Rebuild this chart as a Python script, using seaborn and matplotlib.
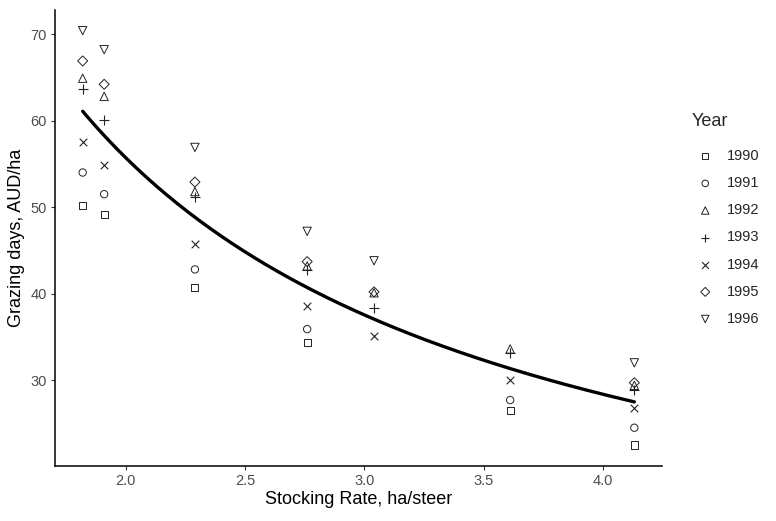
"""Grazing days vs stocking rate, by year, with a power-law fit"""

import numpy as np
import pandas as pd
import matplotlib
matplotlib.use('Agg')
import matplotlib.pyplot as plt
import seaborn as sns

# Stocking rates (ha/steer) used in the trial
stocking_rate = [1.82, 1.91, 2.29, 2.76, 3.04, 3.61, 4.13]

# Grazing days (AUD/ha) per year, NaN where no observation
years = ['1990', '1991', '1992', '1993', '1994', '1995', '1996']
gd_1990 = [50.2, 49.1, 40.7, 34.3, np.nan, 26.5, 22.5]
gd_1991 = [54.0, 51.5, 42.8, 35.9, np.nan, 27.7, 24.5]
gd_1992 = [64.9, 62.8, 51.8, 43.2, 40.1, 33.6, 29.4]
gd_1993 = [63.7, 60.1, 51.2, 42.7, 38.3, 33.1, 28.9]
gd_1994 = [57.5, 54.9, 45.7, 38.6, 35.1, 30.0, 26.8]
gd_1995 = [66.9, 64.2, 52.9, 43.7, 40.2, np.nan, 29.7]
gd_1996 = [70.4, 68.2, 56.9, 47.2, 43.8, np.nan, 32.0]

# ggplot shapes 0..6
year_markers = ['s', 'o', '^', '+', 'x', 'D', 'v']
year_sizes = [26, 28, 36, 46, 30, 26, 36]

series = [gd_1990, gd_1991, gd_1992, gd_1993, gd_1994, gd_1995, gd_1996]
df = pd.concat(
    [pd.DataFrame({'rate': stocking_rate, 'gd': vals, 'Year': yr})
     for yr, vals in zip(years, series)],
    ignore_index=True
).dropna()

# Power-law fit (log-log regression) over the observed range
b, log_a = np.polyfit(np.log(df['rate']), np.log(df['gd']), 1)
fit = pd.DataFrame({'rate': np.linspace(min(stocking_rate), max(stocking_rate), 200)})
fit['gd'] = np.exp(log_a) * fit['rate'] ** b

sns.set_style('white')
plt.rcParams['font.family'] = ['Liberation Sans', 'DejaVu Sans']

fig, ax = plt.subplots(figsize=(7.76, 5.21), dpi=100)
fig.subplots_adjust(left=0.071, right=0.853, bottom=0.106, top=0.981)

handles = []
for yr, mk, sz in zip(years, year_markers, year_sizes):
    sub = df[df['Year'] == yr]
    if mk in ('+', 'x'):
        kw = dict(color='#222222', linewidth=0.8)
    else:
        kw = dict(facecolor='none', edgecolor='#222222', linewidth=0.7)
    sns.scatterplot(data=sub, x='rate', y='gd', marker=mk, s=sz, ax=ax,
                    legend=False, zorder=3, **kw)
    handles.append(plt.scatter([], [], marker=mk, s=sz * 0.8, **kw))

sns.lineplot(data=fit, x='rate', y='gd', color='black', linewidth=2.4,
             ax=ax, zorder=2)

ax.set_xlim(1.7045, 4.2455)
ax.set_ylim(20.1, 72.8)
ax.set_xticks([2.0, 2.5, 3.0, 3.5, 4.0])
ax.set_xticklabels(['2.0', '2.5', '3.0', '3.5', '4.0'])
ax.set_yticks([30, 40, 50, 60, 70])
ax.set_xlabel('Stocking Rate, ha/steer', fontsize=13, color='black', labelpad=2)
ax.set_ylabel('Grazing days, AUD/ha', fontsize=13, color='black', labelpad=4)
ax.tick_params(axis='both', bottom=True, left=True, labelsize=10.5,
               labelcolor='#4d4d4d', color='#333333', length=3,
               width=0.8, direction='out', pad=3)
for side in ['top', 'right']:
    ax.spines[side].set_visible(False)
for side in ['left', 'bottom']:
    ax.spines[side].set_color('black')
    ax.spines[side].set_linewidth(1.1)

leg = fig.legend(handles, years, title='Year', loc='upper left',
                 bbox_to_anchor=(0.875, 0.809), frameon=False,
                 fontsize=10.5, title_fontsize=13, labelspacing=0.9,
                 handletextpad=0.55, handlelength=1.8)
leg._legend_box.align = 'left'
# a bit more room between the title and the entries, as in ggplot
leg._legend_box.sep = 14

fig.savefig('out.png', dpi=100)
